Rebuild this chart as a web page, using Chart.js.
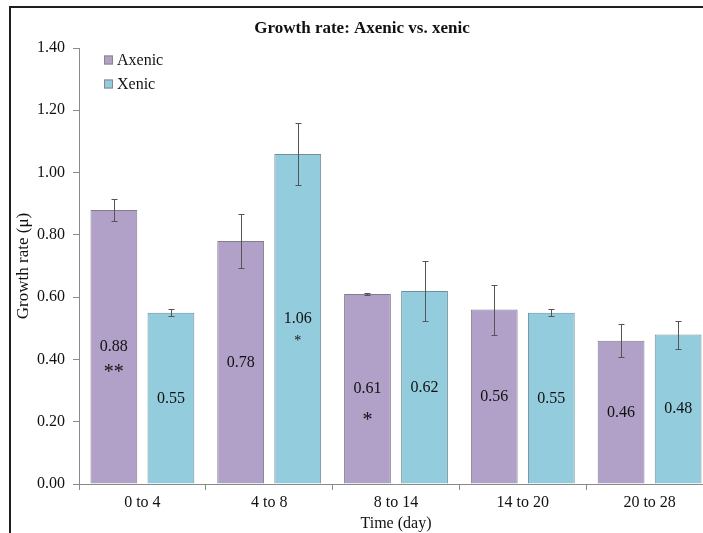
<!DOCTYPE html>
<html>
<head>
<meta charset="utf-8">
<title>Growth rate: Axenic vs. xenic</title>
<script src="https://cdn.jsdelivr.net/npm/chart.js@4.4.1/dist/chart.umd.min.js"></script>
<style>
  html, body { margin: 0; padding: 0; background: #fff; overflow: hidden; width: 703px; height: 533px; }
  #frame { position: absolute; left: 9px; top: 6px; border-top: 2px solid #1e1e1e; border-left: 2px solid #1e1e1e;
           width: 702px; height: 545px; background: #fff; }
  canvas { display: block; }
</style>
</head>
<body>
<div id="frame"><canvas id="c" width="702" height="545"></canvas></div>
<script>
// Time windows (days)
const categories = ['0 to 4', '4 to 8', '8 to 14', '14 to 20', '20 to 28'];

// Mean growth rate per window
const axenic = [0.88, 0.78, 0.61, 0.56, 0.46];
const xenic  = [0.55, 1.06, 0.62, 0.55, 0.48];

// Error bar half-lengths
const axenicErr = [0.035, 0.088, 0.003, 0.080, 0.053];
const xenicErr  = [0.011, 0.099, 0.097, 0.011, 0.045];

// Significance markers shown under the value labels
const axenicSig = ['**', '', '*', '', ''];
const xenicSig  = ['', '*', '', '', ''];

// Y axis range
const yMin = 0, yMax = 1.4, yStep = 0.2;

const FONT = "'Liberation Serif', 'Times New Roman', Times, serif";
const AXIS = '#8a8a8a';
const INK = '#111';

// Vertical error bars with short caps
const errorBars = {
  id: 'errorBars',
  afterDatasetsDraw(chart) {
    const ctx = chart.ctx, y = chart.scales.y;
    chart.data.datasets.forEach((ds, i) => {
      chart.getDatasetMeta(i).data.forEach((bar, j) => {
        const v = ds.data[j], e = ds.errors[j];
        const top = Math.round(y.getPixelForValue(v + e)) + 0.5;
        const bot = Math.round(y.getPixelForValue(v - e)) + 0.5;
        const x = Math.round(bar.x) + 0.5;
        ctx.save();
        ctx.strokeStyle = '#555';
        ctx.lineWidth = 1;
        ctx.beginPath();
        ctx.moveTo(x, top); ctx.lineTo(x, bot);
        ctx.moveTo(x - 3, top); ctx.lineTo(x + 3, top);
        ctx.moveTo(x - 3, bot); ctx.lineTo(x + 3, bot);
        ctx.stroke();
        ctx.restore();
      });
    });
  }
};

// Value labels at mid-height of each bar, significance stars beneath
const barLabels = {
  id: 'barLabels',
  afterDatasetsDraw(chart) {
    const ctx = chart.ctx, y = chart.scales.y;
    chart.data.datasets.forEach((ds, i) => {
      chart.getDatasetMeta(i).data.forEach((bar, j) => {
        const v = ds.data[j];
        const cy = y.getPixelForValue(v / 2);
        ctx.save();
        ctx.fillStyle = INK;
        ctx.textAlign = 'center';
        ctx.textBaseline = 'middle';
        ctx.font = '16px ' + FONT;
        ctx.fillText(v.toFixed(2), bar.x, cy);
        const s = ds.sig[j];
        if (s) {
          const small = s.length === 1 && i === 1;
          ctx.font = (small ? '14px ' : '20px ') + FONT;
          const gap = small ? 22 : (s.length === 1 ? 32 : 26);
          ctx.fillText(s, bar.x, cy + gap);
        }
        ctx.restore();
      });
    });
  }
};

// Legend box in the upper left of the plot
const innerLegend = {
  id: 'innerLegend',
  afterDraw(chart) {
    const ctx = chart.ctx, a = chart.chartArea;
    ctx.save();
    ctx.font = '16px ' + FONT;
    ctx.textBaseline = 'middle';
    ctx.textAlign = 'left';
    chart.data.datasets.forEach((ds, i) => {
      const cy = a.top + 12 + i * 24;
      const x = a.left + 25;
      ctx.fillStyle = ds.backgroundColor;
      ctx.fillRect(x, cy - 4.5, 9, 9);
      ctx.strokeStyle = '#888';
      ctx.lineWidth = 1;
      ctx.strokeRect(x + 0.5, cy - 4, 8, 8);
      ctx.fillStyle = INK;
      ctx.fillText(ds.label, x + 13, cy + 1);
    });
    ctx.restore();
  }
};

new Chart(document.getElementById('c'), {
  type: 'bar',
  data: {
    labels: categories,
    datasets: [
      { label: 'Axenic', data: axenic, errors: axenicErr, sig: axenicSig,
        backgroundColor: '#b1a0c7', borderColor: '#7f7f8c', borderWidth: 1,
        categoryPercentage: 0.9, barPercentage: 0.82 },
      { label: 'Xenic', data: xenic, errors: xenicErr, sig: xenicSig,
        backgroundColor: '#93cddd', borderColor: '#6f8f99', borderWidth: 1,
        categoryPercentage: 0.9, barPercentage: 0.82 }
    ]
  },
  options: {
    responsive: false,
    devicePixelRatio: 1,
    animation: false,
    events: [],
    layout: { padding: 0 },
    plugins: {
      legend: { display: false },
      tooltip: { enabled: false },
      title: {
        display: true,
        text: 'Growth rate: Axenic vs. xenic',
        color: INK,
        font: { family: FONT, size: 17, weight: 'bold' },
        padding: { top: 10.8, bottom: 8.8 }
      }
    },
    scales: {
      x: {
        grid: { display: true, drawOnChartArea: false, drawTicks: true, tickLength: 6, color: AXIS, offset: true },
        border: { display: true, color: AXIS },
        ticks: { color: INK, font: { family: FONT, size: 16 }, padding: 3, maxRotation: 0 },
        title: { display: true, text: 'Time (day)', color: INK, font: { family: FONT, size: 16 }, padding: { top: 0, bottom: 19.4 } },
        afterFit(s) { s.height = 69; }
      },
      y: {
        min: yMin, max: yMax,
        grid: { drawOnChartArea: false, drawTicks: true, tickLength: 6, color: AXIS },
        border: { display: true, color: AXIS },
        ticks: { stepSize: yStep, color: INK, font: { family: FONT, size: 16 }, padding: 8,
                 callback: v => Number(v).toFixed(2) },
        title: { display: true, text: 'Growth rate (μ)', color: INK, font: { family: FONT, size: 17 }, padding: { top: 2.8, bottom: 0 } },
        afterFit(s) { s.width = 68; }
      }
    }
  },
  plugins: [errorBars, barLabels, innerLegend]
});
</script>
</body>
</html>
